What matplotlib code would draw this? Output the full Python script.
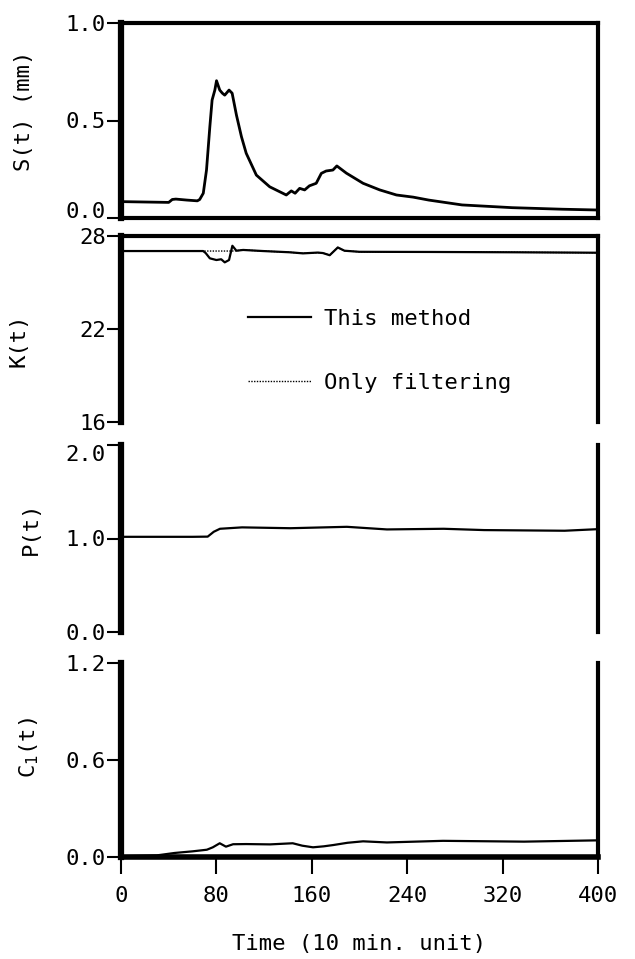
import matplotlib
matplotlib.use("Agg")
import matplotlib.pyplot as plt

# S(t) - observed
t_s = [0, 20, 40, 43, 46, 55, 64, 66, 69, 71.7, 74.5, 76.4, 78.7, 80.1, 82.8, 85, 87,
       90.6, 93.2, 96.8, 101, 105, 113.5, 124.7, 138.6, 142.8, 146, 149.8, 154, 158,
       163.7, 168, 172, 177.7, 181, 189, 203, 217, 231, 245, 258, 286, 328, 370, 400]
s_vals = [0.084, 0.082, 0.080, 0.095, 0.097, 0.092, 0.088, 0.095, 0.127, 0.246, 0.468,
          0.605, 0.656, 0.704, 0.656, 0.64, 0.63, 0.656, 0.64, 0.528, 0.417, 0.332, 0.22,
          0.16, 0.118, 0.139, 0.127, 0.152, 0.144, 0.165, 0.178, 0.229, 0.241, 0.246,
          0.267, 0.23, 0.178, 0.144, 0.118, 0.107, 0.092, 0.067, 0.053, 0.045, 0.041]

# K(t)
t_k = [0, 60, 68.9, 71, 74.5, 80, 84, 87, 90.6, 93.4, 96.8, 102.4, 119, 141.4, 152.6,
       165, 169.3, 175, 181.8, 187.4, 200, 260, 330, 400]
k_method = [27.03, 27.03, 27.03, 26.9, 26.56, 26.45, 26.5, 26.3, 26.45, 27.37, 27.05,
            27.1, 27.03, 26.95, 26.88, 26.93, 26.9, 26.76, 27.26, 27.05, 26.98, 26.97,
            26.95, 26.92]
k_filter = [27.03, 27.03, 27.03, 27.03, 27.03, 27.03, 27.03, 27.03, 27.03, 27.03, 27.05,
            27.1, 27.03, 26.95, 26.88, 26.93, 26.9, 26.76, 27.26, 27.05, 26.98, 26.97,
            26.95, 26.92]

# P(t)
t_p = [0, 60, 72.7, 77.8, 83, 101.5, 142, 189.4, 223, 270.6, 304.5, 372, 400]
p_vals = [1.018, 1.018, 1.02, 1.072, 1.104, 1.119, 1.11, 1.125, 1.097, 1.104, 1.09,
          1.083, 1.1]

# C1(t)
t_c = [0, 30, 45, 60, 72, 77, 82.8, 88, 94, 105, 125, 144, 152, 161, 170, 178, 190,
       203, 223, 270, 338, 400]
c_vals = [0.005, 0.01, 0.025, 0.035, 0.045, 0.06, 0.085, 0.064, 0.079, 0.08, 0.078,
          0.085, 0.07, 0.06, 0.066, 0.074, 0.088, 0.097, 0.09, 0.1, 0.095, 0.103]

x_ticks = [0, 80, 160, 240, 320, 400]

plt.rcParams["font.family"] = "DejaVu Sans Mono"
plt.rcParams["mathtext.fontset"] = "custom"
plt.rcParams["mathtext.rm"] = "DejaVu Sans Mono"
FS = 16

fig = plt.figure(figsize=(6.35, 9.59), dpi=100)
W, H = 635, 959
left, right = 121, 598

def make_ax(top, bottom):
    return fig.add_axes([left / W, 1 - bottom / H, (right - left) / W, (bottom - top) / H])

ax1 = make_ax(23, 218)
ax2 = make_ax(236, 422)
ax3 = make_ax(445, 632)
ax4 = make_ax(663, 857)
axes = [ax1, ax2, ax3, ax4]

for ax in axes:
    ax.set_xlim(0, 400)
    for s in ax.spines.values():
        s.set_linewidth(3)
    ax.spines["left"].set_linewidth(4.5)
    ax.tick_params(axis="y", direction="out", length=10, width=1.5, pad=1, labelsize=FS)
    ax.tick_params(axis="x", bottom=False, labelbottom=False)

# visible spines per panel
ax2.spines["bottom"].set_visible(False)
ax3.spines["top"].set_visible(False)
ax3.spines["bottom"].set_visible(False)
ax4.spines["top"].set_visible(False)
ax4.spines["bottom"].set_linewidth(4)

# panel 1
ax1.plot(t_s, s_vals, color="black", lw=2)
ax1.set_ylim(0, 1.0)
ax1.set_yticks([0.0, 0.5, 1.0])
ax1.set_yticklabels(["0.0", "0.5", "1.0"])
ax1.set_ylabel("S(t) (mm)", fontsize=FS, va="center")
ax1.yaxis.set_label_coords(-0.204, 0.55)

# panel 2
ax2.plot(t_k, k_method, color="black", lw=1.6, label="This method")
ax2.plot(t_k, k_filter, color="black", lw=1.0, linestyle=(0, (1, 1)), label="Only filtering")
ax2.set_ylim(16, 28)
ax2.set_yticks([16, 22, 28])
ax2.set_ylabel("K(t)", fontsize=FS, va="center")
ax2.yaxis.set_label_coords(-0.215, 0.44)
ax2.legend(loc="upper left", bbox_to_anchor=(0.267, 0.61), frameon=False,
           fontsize=FS, handlelength=2.8, handletextpad=0.6, labelspacing=2.0,
           borderpad=0, borderaxespad=0)

# panel 3
ax3.plot(t_p, p_vals, color="black", lw=1.6)
ax3.set_ylim(0, 2.0)
ax3.set_yticks([0.0, 1.0, 2.0])
ax3.set_yticklabels(["0.0", "1.0", "2.0"])
ax3.set_ylabel("P(t)", fontsize=FS, va="center")
ax3.yaxis.set_label_coords(-0.189, 0.556)

# panel 4
ax4.plot(t_c, c_vals, color="black", lw=1.6)
ax4.set_ylim(0, 1.2)
ax4.set_yticks([0.0, 0.6, 1.2])
ax4.set_yticklabels(["0.0", "0.6", "1.2"])
ax4.set_ylabel(r"C$_\mathrm{1}$(t)", fontsize=FS, va="center")
ax4.yaxis.set_label_coords(-0.192, 0.567)
ax4.tick_params(axis="x", bottom=True, labelbottom=True, direction="out",
                length=12, width=1.5, pad=9, labelsize=FS)
ax4.set_xticks(x_ticks)
ax4.set_xlabel("Time (10 min. unit)", fontsize=FS, labelpad=20)

# the end labels sit off-centre in the original
fig.canvas.draw()
ax1.get_yticklabels()[0].set_va("baseline")
ax3.get_yticklabels()[2].set_va("top")

fig.savefig("out.png", dpi=100)
